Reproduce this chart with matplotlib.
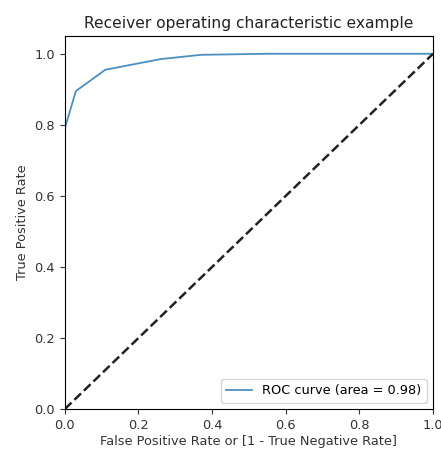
import matplotlib
matplotlib.use("Agg")
import matplotlib.pyplot as plt

# ROC curve points
fpr = [0.0, 0.03, 0.11, 0.26, 0.37, 0.55, 1.0]
tpr = [0.79, 0.895, 0.955, 0.985, 0.997, 1.0, 1.0]
roc_auc = 0.98

fig = plt.figure(figsize=(4.41, 4.5), dpi=100)
ax = fig.add_axes([0.147, 0.091, 0.835, 0.829])

ax.plot(fpr, tpr, color="#4c8fbf", lw=1.3, label="ROC curve (area = %0.2f)" % roc_auc)
ax.plot([0, 1], [0, 1], "--", color="#222222", lw=1.8)
ax.set_xlim([0.0, 1.0])
ax.set_ylim([0.0, 1.05])
ax.set_xlabel("False Positive Rate or [1 - True Negative Rate]", fontsize=9.3, color="#333333", labelpad=2)
ax.set_ylabel("True Positive Rate", fontsize=9.3, color="#333333")
ax.set_title("Receiver operating characteristic example", fontsize=11.2, color="#222222")
ax.tick_params(labelsize=9.3, colors="#333333")
ax.legend(loc="lower right", fontsize=9.3)

fig.savefig("out.png", dpi=100)
